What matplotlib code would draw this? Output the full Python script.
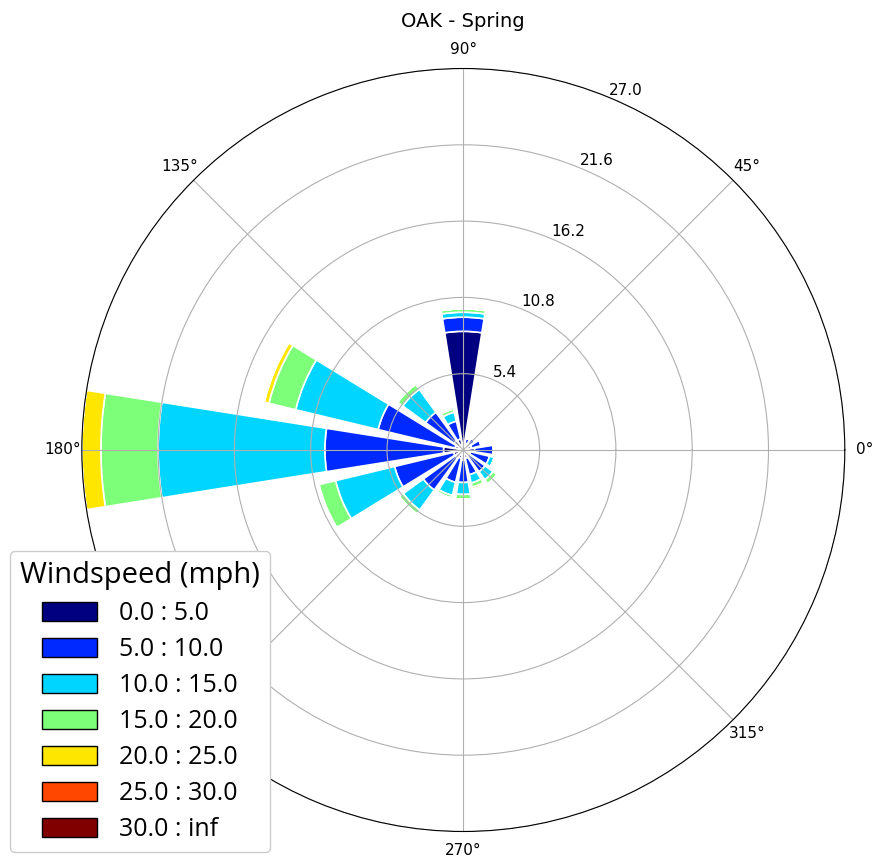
import numpy as np
import matplotlib
matplotlib.use("Agg")
import matplotlib.pyplot as plt
from matplotlib.patches import Patch

# wind direction sectors (deg, math convention) and frequency (%) per speed bin
directions = np.arange(0, 360, 22.5)
speed_labels = ["0.0 : 5.0", "5.0 : 10.0", "10.0 : 15.0", "15.0 : 20.0",
                "20.0 : 25.0", "25.0 : 30.0", "30.0 : inf"]
#               0    22.5  45   67.5  90   112.5 135  157.5 180   202.5 225  247.5 270  292.5 315  337.5
spd_0_5   = [0.8, 0.6, 0.5, 0.5, 8.4, 0.8, 0.8, 0.6, 1.4, 0.7, 0.7, 0.6, 0.7, 0.6, 0.5, 0.5]
spd_5_10  = [1.35, 0.7, 0.5, 0.35, 1.0, 1.3, 2.5, 5.6, 8.4, 4.3, 2.8, 1.75, 1.6, 1.2, 1.4, 1.4]
spd_10_15 = [0.0, 0.0, 0.0, 0.0, 0.35, 0.65, 2.0, 6.0, 11.8, 4.3, 1.75, 0.95, 0.85, 0.6, 0.7, 0.35]
spd_15_20 = [0.0, 0.0, 0.0, 0.0, 0.25, 0.25, 0.45, 1.95, 4.05, 1.2, 0.35, 0.2, 0.35, 0.3, 0.35, 0.0]
spd_20_25 = [0.0, 0.0, 0.0, 0.0, 0.0, 0.0, 0.0, 0.35, 1.35, 0.12, 0.0, 0.0, 0.0, 0.15, 0.0, 0.0]
spd_25_30 = [0.0] * 16
spd_30_up = [0.0] * 16

# angle labels; 225 sits under the legend
theta_labels = ["0°", "45°", "90°", "135°", "180°", "", "270°", "315°"]

table = np.array([spd_0_5, spd_5_10, spd_10_15, spd_15_20, spd_20_25, spd_25_30, spd_30_up])
colors = [plt.cm.jet(v) for v in np.linspace(0.0, 1.0, len(speed_labels))]

fig = plt.figure(figsize=(8.8, 8.67), dpi=100)
ax = fig.add_axes([81.8 / 880, 35.5 / 867, 763 / 880, 763 / 867], projection="polar")

theta = np.radians(directions)
width = np.radians(22.5) * 0.8
offset = np.zeros(len(directions))
for i in range(len(speed_labels)):
    ax.bar(theta, table[i], width=width, bottom=offset, color=colors[i],
           edgecolor="white", linewidth=1.2, zorder=1)
    offset += table[i]

rmax = offset.max()
radii = np.linspace(0, rmax, 6)[1:]
ax.set_ylim(0, rmax)
ax.set_rgrids(radii, labels=["%.1f" % r for r in radii], angle=67.5)
ax.set_thetagrids(np.arange(0, 360, 45), labels=theta_labels)
ax.tick_params(labelsize=11)
ax.grid(True, color="#b0b0b0", linewidth=0.8)
ax.set_title("OAK - Spring", fontsize=14, y=1.043)

# legend patches with black outline, drawn over the axes
handles = [Patch(facecolor=c, edgecolor="black") for c in colors]
fig.legend(handles, speed_labels, title="Windspeed (mph)", loc="lower left",
           bbox_to_anchor=(10 / 880, 15 / 867), borderaxespad=0,
           prop={"family": "Open Sans", "size": 18},
           title_fontproperties={"family": "Open Sans", "size": 21},
           handlelength=2.2, handleheight=0.76, handletextpad=0.9,
           labelspacing=0.44, framealpha=1)

fig.savefig("out.png", dpi=100)
